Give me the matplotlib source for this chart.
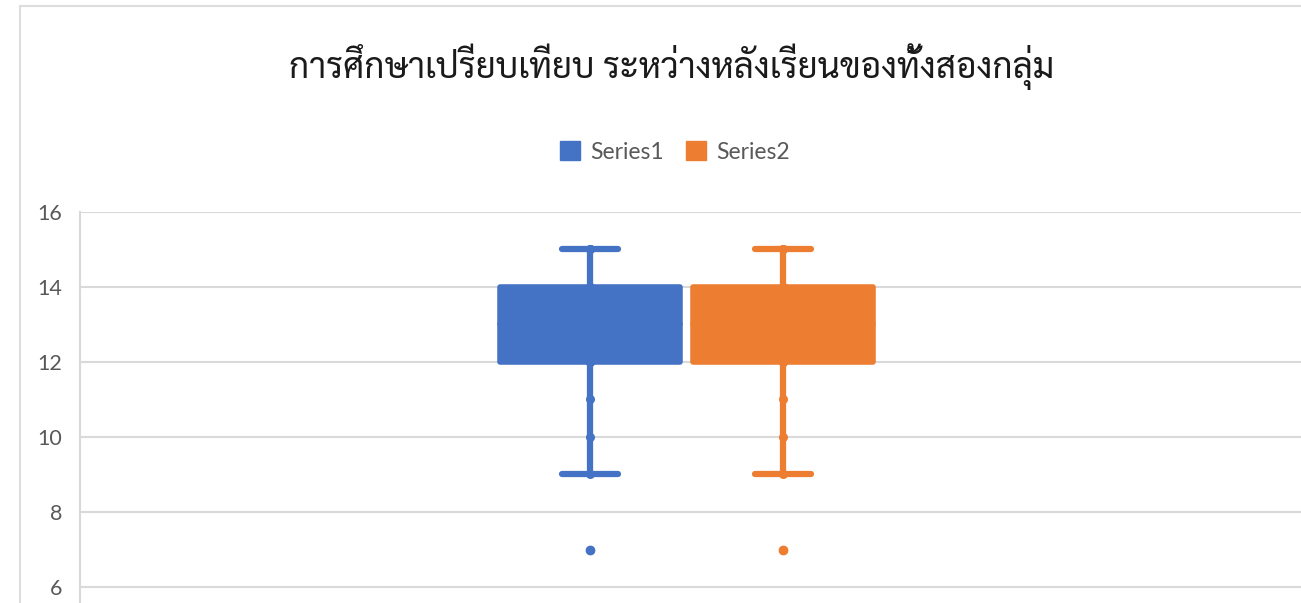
import matplotlib
matplotlib.use("Agg")
import matplotlib.pyplot as plt
from matplotlib.patches import Rectangle

# data
series_names = ["Series1", "Series2"]
series1 = [7, 9, 10, 11, 12, 12, 12, 13, 13, 13, 14, 14, 14, 14, 15, 15, 15]
series2 = [7, 9, 10, 11, 12, 12, 12, 13, 13, 13, 14, 14, 14, 14, 15, 15, 15]
colors = ["#4472C4", "#ED7D31"]
y_ticks = [6, 8, 10, 12, 14, 16]
title = "การศึกษาเปรียบเทียบ ระหว่างหลังเรียนของทั้งสองกลุ่ม"

W, H = 1301, 603
fig = plt.figure(figsize=(W / 100, H / 100), dpi=100)

# chart frame (light border, cut at the right and bottom)
fig.patches.append(Rectangle((20 / W, -0.1), 1.2, (H - 6) / H + 0.1, transform=fig.transFigure,
                             fill=False, edgecolor="#DDDDDD", linewidth=1.5))

# axes: left at x=80, 16 at y=212, running past the image bottom / right
ax = fig.add_axes([80 / W, 0, (W - 80) / W, (H - 212) / H])
ax.set_ylim(16 - (H - 212) / 37.5, 16)
ax.set_xlim(-1.642, -1.642 + (W - 80) / 193)

bp = ax.boxplot([series1, series2], positions=[1, 2], widths=0.93, patch_artist=True,
                whis=1.5, manage_ticks=False)
for i, c in enumerate(colors):
    bp["boxes"][i].set(facecolor=c, edgecolor=c, linewidth=4, joinstyle="round")
    bp["medians"][i].set(color=c, linewidth=4, solid_capstyle="round")
    for w in bp["whiskers"][2 * i:2 * i + 2]:
        w.set(color=c, linewidth=4.5, solid_capstyle="round")
    for cp in bp["caps"][2 * i:2 * i + 2]:
        cp.set(color=c, linewidth=4.5, solid_capstyle="round")
        cp.set_xdata([i + 1 - 0.145, i + 1 + 0.145])
    bp["fliers"][i].set(marker="o", markerfacecolor=c, markeredgecolor=c, markersize=6)
    # inner points
    data = [series1, series2][i]
    ax.plot([i + 1] * len(data), data, "o", color=c, markersize=5.5, zorder=3)

ax.set_yticks(y_ticks)
ax.set_xticks([])
ax.grid(axis="y", color="#D9D9D9", linewidth=1.5)
ax.set_axisbelow(True)
for s in ["top", "right", "bottom"]:
    ax.spines[s].set_visible(False)
ax.spines["left"].set_color("#D9D9D9")
ax.spines["left"].set_linewidth(1.5)
ax.tick_params(axis="y", length=0, pad=13)
for lab in ax.get_yticklabels():
    lab.set(family=["Lato", "DejaVu Sans"], fontsize=15.5, color="#595959")
ax.patch.set_alpha(0)

fig.text(672 / W, 1 - 67 / H, title, ha="center", va="center", fontsize=25.2,
         family=["Sarabun", "Noto Serif Thai", "Loma", "DejaVu Sans"],
         fontweight="normal", color="#1A1A1A")

# legend
handles = [Rectangle((0, 0), 1, 1, color=c) for c in colors]
fig.legend(handles, series_names, loc="center", bbox_to_anchor=(675 / W, 1 - 152 / H),
           ncol=2, frameon=False, prop={"family": ["Lato", "DejaVu Sans"], "size": 16.5},
           labelcolor="#595959", handlelength=0.85, handleheight=0.85,
           handletextpad=0.45, columnspacing=1.0)

fig.savefig("out.png", dpi=100)
